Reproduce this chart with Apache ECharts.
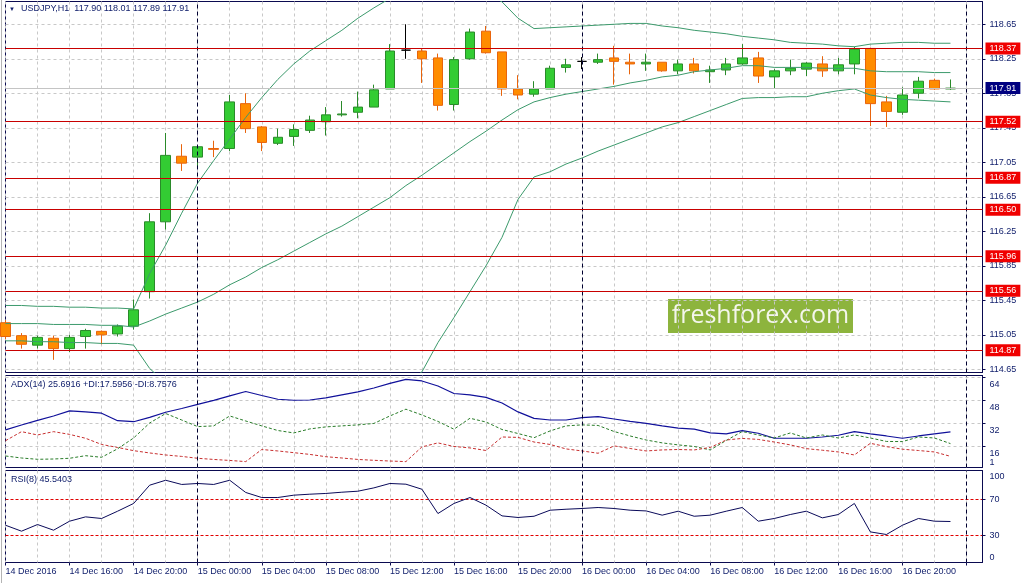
<!DOCTYPE html>
<html>
<head>
<meta charset="utf-8">
<title>USDJPY,H1</title>
<script src="https://cdn.jsdelivr.net/npm/echarts@6/dist/echarts.min.js"></script>
<style>
    html, body { margin: 0; padding: 0; background: #ffffff; }
    #main { width: 1025px; height: 583px; }
</style>
</head>
<body>
<div id="main"></div>
<script>
// USDJPY H1, 14 Dec 12:00 .. 16 Dec 23:00
var opens  = [115.19,115.04,114.93,115.01,114.89,115.03,115.09,115.06,115.15,115.55,116.36,117.12,117.11,117.21,117.21,117.73,117.46,117.27,117.35,117.42,117.52,117.60,117.63,117.69,117.90,118.35,118.34,118.26,117.72,118.25,118.57,118.33,117.90,117.84,117.90,118.15,118.22,118.21,118.26,118.21,118.19,118.21,118.11,118.19,118.10,118.12,118.19,118.26,118.04,118.11,118.13,118.19,118.11,118.19,118.37,117.75,117.63,117.85,118.00,117.90];
var highs  = [115.22,115.07,115.04,115.04,115.05,115.12,115.10,115.17,115.46,116.46,117.39,117.26,117.24,117.30,117.83,117.85,117.47,117.44,117.49,117.59,117.69,117.76,117.87,117.95,118.42,118.65,118.37,118.31,118.27,118.60,118.63,118.33,118.06,117.99,118.17,118.25,118.27,118.31,118.40,118.31,118.31,118.21,118.24,118.26,118.17,118.26,118.42,118.33,118.13,118.24,118.21,118.28,118.26,118.39,118.38,117.82,117.92,118.04,118.02,118.01];
var lows   = [115.00,114.89,114.89,114.76,114.85,114.89,114.94,115.03,115.11,115.47,116.27,116.95,117.00,117.11,117.18,117.39,117.18,117.25,117.24,117.39,117.36,117.58,117.56,117.69,117.90,118.25,117.97,117.65,117.65,118.24,118.31,117.82,117.78,117.81,117.90,118.09,118.13,118.19,117.95,118.07,118.11,118.10,118.07,118.08,117.97,118.06,118.18,117.97,117.91,118.06,118.05,118.04,118.07,118.07,117.47,117.46,117.60,117.79,117.89,117.89];
var closes = [115.03,114.94,115.02,114.89,115.02,115.10,115.05,115.15,115.34,116.36,117.13,117.04,117.23,117.20,117.75,117.44,117.28,117.34,117.43,117.54,117.60,117.61,117.69,117.89,118.34,118.35,118.25,117.71,118.24,118.56,118.32,117.90,117.83,117.90,118.14,118.18,118.22,118.24,118.22,118.19,118.21,118.11,118.19,118.11,118.12,118.19,118.26,118.05,118.11,118.14,118.20,118.11,118.18,118.36,117.73,117.64,117.83,117.99,117.90,117.91];

// Bollinger bands
var bbUpper  = [115.39,115.39,115.38,115.38,115.37,115.37,115.36,115.36,115.35,115.76,116.09,116.46,116.81,117.07,117.32,117.57,117.80,118.01,118.19,118.34,118.46,118.58,118.72,118.84,118.95,119.02,119.07,119.10,119.10,119.07,119.01,118.91,118.72,118.60,118.61,118.62,118.63,118.64,118.65,118.66,118.66,118.63,118.61,118.58,118.56,118.54,118.51,118.49,118.47,118.44,118.43,118.42,118.40,118.39,118.42,118.43,118.44,118.44,118.43,118.43];
var bbMiddle = [115.18,115.18,115.18,115.17,115.17,115.17,115.16,115.16,115.14,115.21,115.29,115.36,115.43,115.52,115.63,115.72,115.83,115.92,116.02,116.12,116.22,116.31,116.42,116.53,116.64,116.78,116.90,117.03,117.16,117.29,117.41,117.54,117.66,117.75,117.80,117.84,117.87,117.90,117.93,117.97,118.00,118.04,118.06,118.10,118.12,118.14,118.17,118.17,118.15,118.15,118.15,118.14,118.14,118.14,118.11,118.10,118.10,118.10,118.09,118.09];
var bbLower  = [114.98,114.98,114.97,114.97,114.96,114.96,114.95,114.95,114.93,114.66,114.49,114.26,114.05,113.97,113.94,113.87,113.86,113.83,113.85,113.90,113.98,114.04,114.12,114.22,114.33,114.48,114.62,114.96,115.25,115.55,115.85,116.18,116.62,116.88,116.94,117.03,117.10,117.18,117.25,117.32,117.39,117.46,117.51,117.58,117.65,117.72,117.79,117.80,117.80,117.81,117.81,117.85,117.88,117.90,117.83,117.80,117.78,117.77,117.76,117.75];

// ADX(14)
var adx     = [27.1,30.5,33.7,36.8,40.3,39.6,38.7,33.5,32.8,35.8,39.4,42.0,44.8,47.6,50.7,53.8,51.0,48.4,47.7,47.9,49.3,51.4,53.5,56.2,59.4,62.2,61.1,57.6,52.4,51.4,49.7,45.8,39.6,35.1,34.0,34.0,35.6,36.3,34.7,33.0,31.6,29.9,28.3,27.6,25.0,24.3,26.6,24.8,21.3,21.3,21.3,22.2,23.4,25.9,24.3,22.9,21.3,22.9,24.3,25.69];
var plusDI  = [9.0,7.6,6.7,6.9,7.4,9.2,8.1,14.0,21.5,31.9,38.5,34.0,29.4,29.9,36.8,33.3,29.9,26.7,25.0,27.8,29.2,29.9,30.6,31.6,36.8,41.5,37.5,33.0,27.6,35.2,32.6,27.4,24.6,21.7,26.4,29.9,30.6,30.2,26.0,22.9,20.1,18.1,16.7,15.6,13.2,19.8,26.0,23.6,21.5,25.0,21.5,23.6,21.5,23.6,21.5,19.1,19.0,22.2,21.5,17.60];
var minusDI = [19.6,25.9,23.6,25.9,24.0,21.3,17.0,14.9,12.7,11.1,9.7,8.7,7.4,6.6,5.9,5.1,13.5,12.5,11.3,10.1,8.5,7.6,6.6,6.0,5.5,5.1,15.3,18.1,15.6,14.6,12.8,22.2,21.9,18.7,17.0,13.9,12.5,10.9,16.0,14.2,12.5,13.2,13.5,13.2,14.9,20.1,21.2,20.5,18.7,16.7,14.1,13.0,11.8,9.7,17.8,15.5,13.7,12.8,11.8,8.76];

// RSI(8)
var rsi = [41.4,34.8,42.2,35.9,45.9,50.7,48.9,57.0,65.6,85.9,91.4,86.7,87.8,86.7,91.4,77.8,72.2,72.2,74.8,75.9,76.7,78.1,79.2,82.9,87.8,87.0,81.4,54.4,65.6,72.2,63.7,51.8,50.0,51.4,58.1,59.2,60.0,61.1,60.0,58.1,57.3,52.6,57.0,51.4,52.6,57.0,61.1,45.9,48.9,53.3,57.0,49.6,53.3,65.6,34.0,31.1,41.4,48.9,45.9,45.54];

// horizontal levels and current bid
var levels = [118.37, 117.52, 116.87, 116.50, 115.96, 115.56, 114.87];
var bid = 117.91;
var rsiLevels = [70, 30];

// tick labels
var priceTicks = [114.65, 115.05, 115.45, 115.85, 116.25, 116.65, 117.05, 117.45, 117.85, 118.25, 118.65];
var adxTicks = [16, 32, 48, 64];
var timeLabels = ['14 Dec 2016', '14 Dec 16:00', '14 Dec 20:00', '15 Dec 00:00', '15 Dec 04:00', '15 Dec 08:00',
    '15 Dec 12:00', '15 Dec 16:00', '15 Dec 20:00', '16 Dec 00:00', '16 Dec 04:00', '16 Dec 08:00',
    '16 Dec 12:00', '16 Dec 16:00', '16 Dec 20:00'];
var daySeparators = ['15 Dec 00:00', '16 Dec 00:00', '17 Dec 00:00'];

// hourly categories, two extra empty bars on the right (chart shift)
var hours = [];
for (var i = 0; i < 62; i++) {
    var h = 12 + i;
    var d = 14 + Math.floor(h / 24);
    h = h % 24;
    hours.push(d + ' Dec ' + (h < 10 ? '0' : '') + h + ':00');
}

var candleData = [];
for (var k = 0; k < opens.length; k++) {
    candleData.push([opens[k], closes[k], lows[k], highs[k]]);
}

var FONT = '"Liberation Sans", Arial, sans-serif';
var NAVY = '#14226e';
var AXIS_NAVY = '#0a0a50';
var GRID_GRAY = '#c8c8c8';

function makeX(gridIndex, withLabels) {
    return {
        type: 'category',
        gridIndex: gridIndex,
        data: hours,
        boundaryGap: false,
        axisLine: { show: false },
        axisTick: { show: withLabels, interval: 3, length: 3, lineStyle: { color: AXIS_NAVY } },
        axisLabel: {
            show: withLabels,
            interval: 3,
            align: 'left',
            margin: 5,
            fontSize: 9,
            fontFamily: FONT,
            color: NAVY,
            formatter: function (value, idx) {
                if (idx % 4 === 0 && idx / 4 < timeLabels.length) {
                    return timeLabels[idx / 4];
                }
                return '';
            }
        },
        splitLine: { show: true, interval: 1, lineStyle: { color: GRID_GRAY, type: [3, 3], width: 1 } }
    };
}

function makeY(gridIndex, min, max, ticks, opts) {
    opts = opts || {};
    return {
        type: 'value',
        gridIndex: gridIndex,
        position: 'right',
        min: min,
        max: max,
        axisLine: { show: opts.line !== false, lineStyle: { color: AXIS_NAVY } },
        axisTick: { show: opts.line !== false, length: 3, customValues: ticks, lineStyle: { color: AXIS_NAVY } },
        axisLabel: {
            customValues: ticks,
            margin: 7,
            fontSize: 9,
            fontFamily: FONT,
            color: NAVY,
            verticalAlign: opts.valign || 'middle',
            padding: opts.padding || 0,
            formatter: opts.formatter || function (v) { return String(v); }
        },
        splitLine: opts.split ? { show: true, lineStyle: opts.split } : { show: false }
    };
}

var sepLine = {
    silent: true,
    animation: false,
    symbol: ['none', 'none'],
    label: { show: false },
    lineStyle: { color: '#000030', type: [4, 3], width: 1 },
    data: daySeparators.map(function (s) { return { xAxis: s }; })
};

var levelData = levels.map(function (v) { return { yAxis: v }; });
levelData.push({
    yAxis: bid,
    lineStyle: { color: '#c4c4c4', type: 'solid', width: 1 },
    label: { backgroundColor: '#000080' }
});

var myChart = echarts.init(document.getElementById('main'));

var titleStyle = { fontSize: 9, fontWeight: 'normal', color: NAVY, fontFamily: FONT };

var option = {
    backgroundColor: '#ffffff',
    animation: false,
    title: [
        { text: '\u25BC', left: 9, top: 6, padding: 0, textStyle: { fontSize: 6, color: NAVY } },
        { text: 'USDJPY,H1  117.90 118.01 117.89 117.91', left: 21, top: 4, padding: 0, textStyle: titleStyle },
        { text: 'ADX(14) 25.6916 +DI:17.5956 -DI:8.7576', left: 11, top: 380, padding: 0, textStyle: titleStyle },
        { text: 'RSI(8) 45.5403', left: 11, top: 475, padding: 0, textStyle: titleStyle }
    ],
    grid: [
        { left: 5.5, right: 42.5, top: 1.5, height: 371, show: true, borderColor: AXIS_NAVY, borderWidth: 1 },
        { left: 5.5, right: 42.5, top: 375.5, height: 92, show: true, borderColor: AXIS_NAVY, borderWidth: 1 },
        { left: 5.5, right: 42.5, top: 470.5, height: 92, show: true, borderColor: AXIS_NAVY, borderWidth: 1 }
    ],
    xAxis: [makeX(0, false), makeX(1, false), makeX(2, true)],
    yAxis: [
        makeY(0, 114.613, 118.914, priceTicks, {
            formatter: function (v) { return v.toFixed(2); },
            split: { color: GRID_GRAY, type: [3, 3], width: 1 }
        }),
        makeY(1, 1.0, 64.9, adxTicks, {
            valign: 'top', padding: [3, 0, 0, 0],
            split: { color: GRID_GRAY, type: [3, 3], width: 1 }
        }),
        makeY(1, 1.0, 64.9, [1], { valign: 'bottom', line: false }),
        makeY(2, 0, 102.22, rsiLevels, {
            split: { color: '#e00000', type: [3, 2], width: 1 }
        }),
        makeY(2, 0, 102.22, [100], { valign: 'top', line: false }),
        makeY(2, 0, 102.22, [0], { valign: 'bottom', line: false })
    ],
    graphic: [
        {
            type: 'rect', left: 1, top: 0, silent: true,
            shape: { width: 1, height: 583 }, style: { fill: '#b4b4b4' }
        },
        {
            type: 'group', left: 668, top: 299, silent: true,
            children: [
                { type: 'rect', shape: { x: 0, y: 0, width: 185, height: 34 }, style: { fill: '#8db43d' } },
                {
                    type: 'text',
                    style: {
                        text: 'freshforex.com', x: 92.5, y: 17, align: 'center', verticalAlign: 'middle',
                        font: '25px "Open Sans", sans-serif', fill: '#f4f6ec'
                    }
                }
            ]
        }
    ],
    series: [
        {
            name: 'BB upper', type: 'line', xAxisIndex: 0, yAxisIndex: 0, data: bbUpper,
            symbol: 'none', silent: true, lineStyle: { color: '#3c9a6c', width: 1 }
        },
        {
            name: 'BB middle', type: 'line', xAxisIndex: 0, yAxisIndex: 0, data: bbMiddle,
            symbol: 'none', silent: true, lineStyle: { color: '#3c9a6c', width: 1 },
            markLine: sepLine
        },
        {
            name: 'BB lower', type: 'line', xAxisIndex: 0, yAxisIndex: 0, data: bbLower,
            symbol: 'none', silent: true, lineStyle: { color: '#3c9a6c', width: 1 }
        },
        {
            name: 'USDJPY', type: 'candlestick', xAxisIndex: 0, yAxisIndex: 0, data: candleData,
            barWidth: 10,
            itemStyle: {
                color: '#33cc33',
                color0: '#ff8c00',
                borderColor: '#2a8a2a',
                borderColor0: '#e8640c',
                borderColorDoji: '#000000',
                borderWidth: 1
            },
            markLine: {
                silent: true,
                animation: false,
                symbol: ['none', 'none'],
                precision: 2,
                lineStyle: { color: '#c80000', type: 'solid', width: 1 },
                label: {
                    position: 'end',
                    distance: 3,
                    fontSize: 9,
                    fontFamily: FONT,
                    color: '#ffffff',
                    backgroundColor: '#f00000',
                    padding: [2, 4, 1, 4],
                    formatter: function (p) { return Number(p.value).toFixed(2); }
                },
                data: levelData
            }
        },
        {
            name: 'ADX', type: 'line', xAxisIndex: 1, yAxisIndex: 1, data: adx,
            symbol: 'none', silent: true, lineStyle: { color: '#10109a', width: 1.2 },
            markLine: sepLine
        },
        {
            name: '+DI', type: 'line', xAxisIndex: 1, yAxisIndex: 1, data: plusDI,
            symbol: 'none', silent: true, lineStyle: { color: '#2a7d2a', width: 1, type: [3, 2] }
        },
        {
            name: '-DI', type: 'line', xAxisIndex: 1, yAxisIndex: 1, data: minusDI,
            symbol: 'none', silent: true, lineStyle: { color: '#c83030', width: 1, type: [3, 2] }
        },
        {
            name: 'RSI', type: 'line', xAxisIndex: 2, yAxisIndex: 3, data: rsi,
            symbol: 'none', silent: true, lineStyle: { color: '#0a0a5a', width: 1 },
            markLine: sepLine
        }
    ]
};

myChart.setOption(option);
</script>
</body>
</html>
